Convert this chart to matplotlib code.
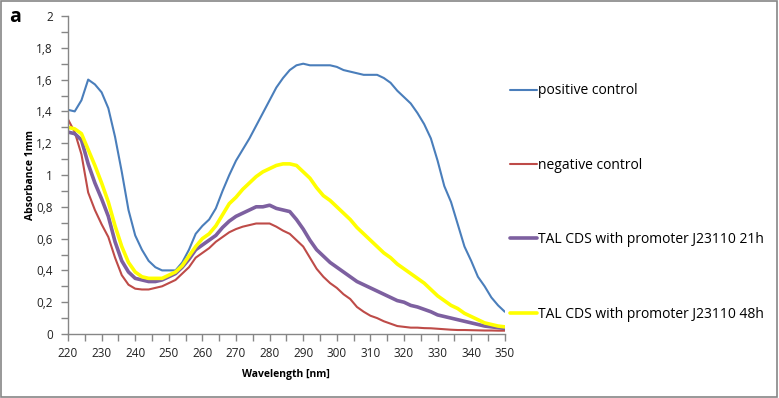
import matplotlib
matplotlib.use("Agg")
import matplotlib.pyplot as plt
from matplotlib.patches import Rectangle
from matplotlib.ticker import MultipleLocator, FuncFormatter

# ---------- data ----------
wavelength = list(range(220, 351, 2))

positive_control = [
    1.41, 1.40, 1.47, 1.60, 1.57, 1.52, 1.42, 1.24, 1.02, 0.78,
    0.62, 0.53, 0.46, 0.42, 0.40, 0.40, 0.40, 0.45, 0.53, 0.63,
    0.68, 0.72, 0.79, 0.90, 1.00, 1.09, 1.16, 1.23, 1.31, 1.39,
    1.47, 1.55, 1.61, 1.66, 1.69, 1.70, 1.69, 1.69, 1.69, 1.69,
    1.68, 1.66, 1.65, 1.64, 1.63, 1.63, 1.63, 1.61, 1.58, 1.53,
    1.49, 1.45, 1.39, 1.32, 1.23, 1.09, 0.93, 0.83, 0.69, 0.55,
    0.46, 0.36, 0.30, 0.23, 0.18, 0.14,
]

negative_control = [
    1.35, 1.27, 1.13, 0.89, 0.78, 0.69, 0.61, 0.48, 0.37, 0.31,
    0.285, 0.28, 0.28, 0.29, 0.30, 0.32, 0.34, 0.38, 0.42, 0.48,
    0.51, 0.54, 0.58, 0.61, 0.64, 0.66, 0.675, 0.685, 0.695, 0.695,
    0.695, 0.675, 0.65, 0.63, 0.59, 0.55, 0.48, 0.41, 0.36, 0.32,
    0.29, 0.25, 0.22, 0.17, 0.14, 0.115, 0.10, 0.08, 0.065, 0.05,
    0.045, 0.04, 0.04, 0.037, 0.036, 0.033, 0.03, 0.027, 0.025, 0.025,
    0.024, 0.023, 0.022, 0.022, 0.021, 0.021,
]

tal_21h = [
    1.27, 1.26, 1.22, 1.07, 0.95, 0.85, 0.74, 0.58, 0.46, 0.39,
    0.35, 0.34, 0.33, 0.33, 0.34, 0.36, 0.38, 0.42, 0.47, 0.53,
    0.56, 0.59, 0.62, 0.67, 0.71, 0.74, 0.76, 0.78, 0.80, 0.80,
    0.81, 0.79, 0.78, 0.77, 0.72, 0.66, 0.59, 0.53, 0.49, 0.45,
    0.42, 0.39, 0.36, 0.33, 0.31, 0.29, 0.27, 0.25, 0.23, 0.21,
    0.20, 0.18, 0.17, 0.155, 0.14, 0.12, 0.11, 0.10, 0.09, 0.08,
    0.07, 0.06, 0.05, 0.045, 0.04, 0.035,
]

tal_48h = [
    1.30, 1.29, 1.26, 1.16, 1.06, 0.95, 0.83, 0.68, 0.55, 0.45,
    0.39, 0.36, 0.35, 0.35, 0.35, 0.37, 0.39, 0.43, 0.49, 0.55,
    0.60, 0.63, 0.68, 0.75, 0.82, 0.86, 0.91, 0.95, 0.99, 1.02,
    1.04, 1.06, 1.07, 1.07, 1.06, 1.02, 0.98, 0.92, 0.87, 0.84,
    0.80, 0.76, 0.72, 0.67, 0.63, 0.59, 0.55, 0.51, 0.48, 0.44,
    0.41, 0.38, 0.35, 0.32, 0.28, 0.24, 0.21, 0.18, 0.16, 0.13,
    0.11, 0.09, 0.07, 0.06, 0.05, 0.045,
]

labels = ["positive control", "negative control",
          "TAL CDS with promoter J23110 21h", "TAL CDS with promoter J23110 48h"]
colors = ["#4A7EBB", "#BE4B48", "#7D60A0", "#FFFF00"]
widths = [1.5, 1.5, 2.6, 2.6]

plt.rcParams['font.family'] = ['Open Sans', 'DejaVu Sans']

fig = plt.figure(figsize=(7.79, 3.98), dpi=100)
ax = fig.add_axes([0.0873, 0.1608, 0.648 - 0.0873, 0.9598 - 0.1608])

series = [positive_control, negative_control, tal_21h, tal_48h]
for ys, lab, c, lw in zip(series, labels, colors, widths):
    ax.plot(wavelength, ys, color=c, lw=lw, label=lab, solid_capstyle='round')

ax.set_xlim(220, 350)
ax.set_ylim(0, 2)
ax.xaxis.set_major_locator(MultipleLocator(10))
ax.xaxis.set_minor_locator(MultipleLocator(5))
ax.yaxis.set_major_locator(MultipleLocator(0.2))
ax.yaxis.set_minor_locator(MultipleLocator(0.1))
ax.yaxis.set_major_formatter(FuncFormatter(lambda v, p: f"{v:.1f}".rstrip('0').rstrip('.').replace('.', ',')))

for s in ['top', 'right']:
    ax.spines[s].set_visible(False)
for s in ['left', 'bottom']:
    ax.spines[s].set_color('#868686')
    ax.spines[s].set_linewidth(1.0)
ax.tick_params(which='both', direction='out', length=5, width=1, color='#868686',
               labelsize=8.5, labelcolor='#222222')
ax.tick_params(axis='x', pad=4)
ax.tick_params(axis='y', pad=6)

ax.set_xlabel("Wavelength [nm]", fontsize=7.5, fontweight='bold', labelpad=7)
ax.set_ylabel("Absorbance 1mm", fontsize=7.5, fontweight='bold', labelpad=0)

leg = ax.legend(loc='upper left', bbox_to_anchor=(0.995, 0.81), frameon=False,
                fontsize=10, handlelength=1.95, handletextpad=0.1,
                labelspacing=4.28, borderaxespad=0.1)

fig.text(0.012, 0.945, "a", fontsize=14, fontweight='bold')
fig.patches.append(Rectangle((0.001, 0.002), 0.997, 0.995, transform=fig.transFigure,
                             fill=False, edgecolor='#868686', lw=1.2))

fig.savefig("out.png", dpi=100)
